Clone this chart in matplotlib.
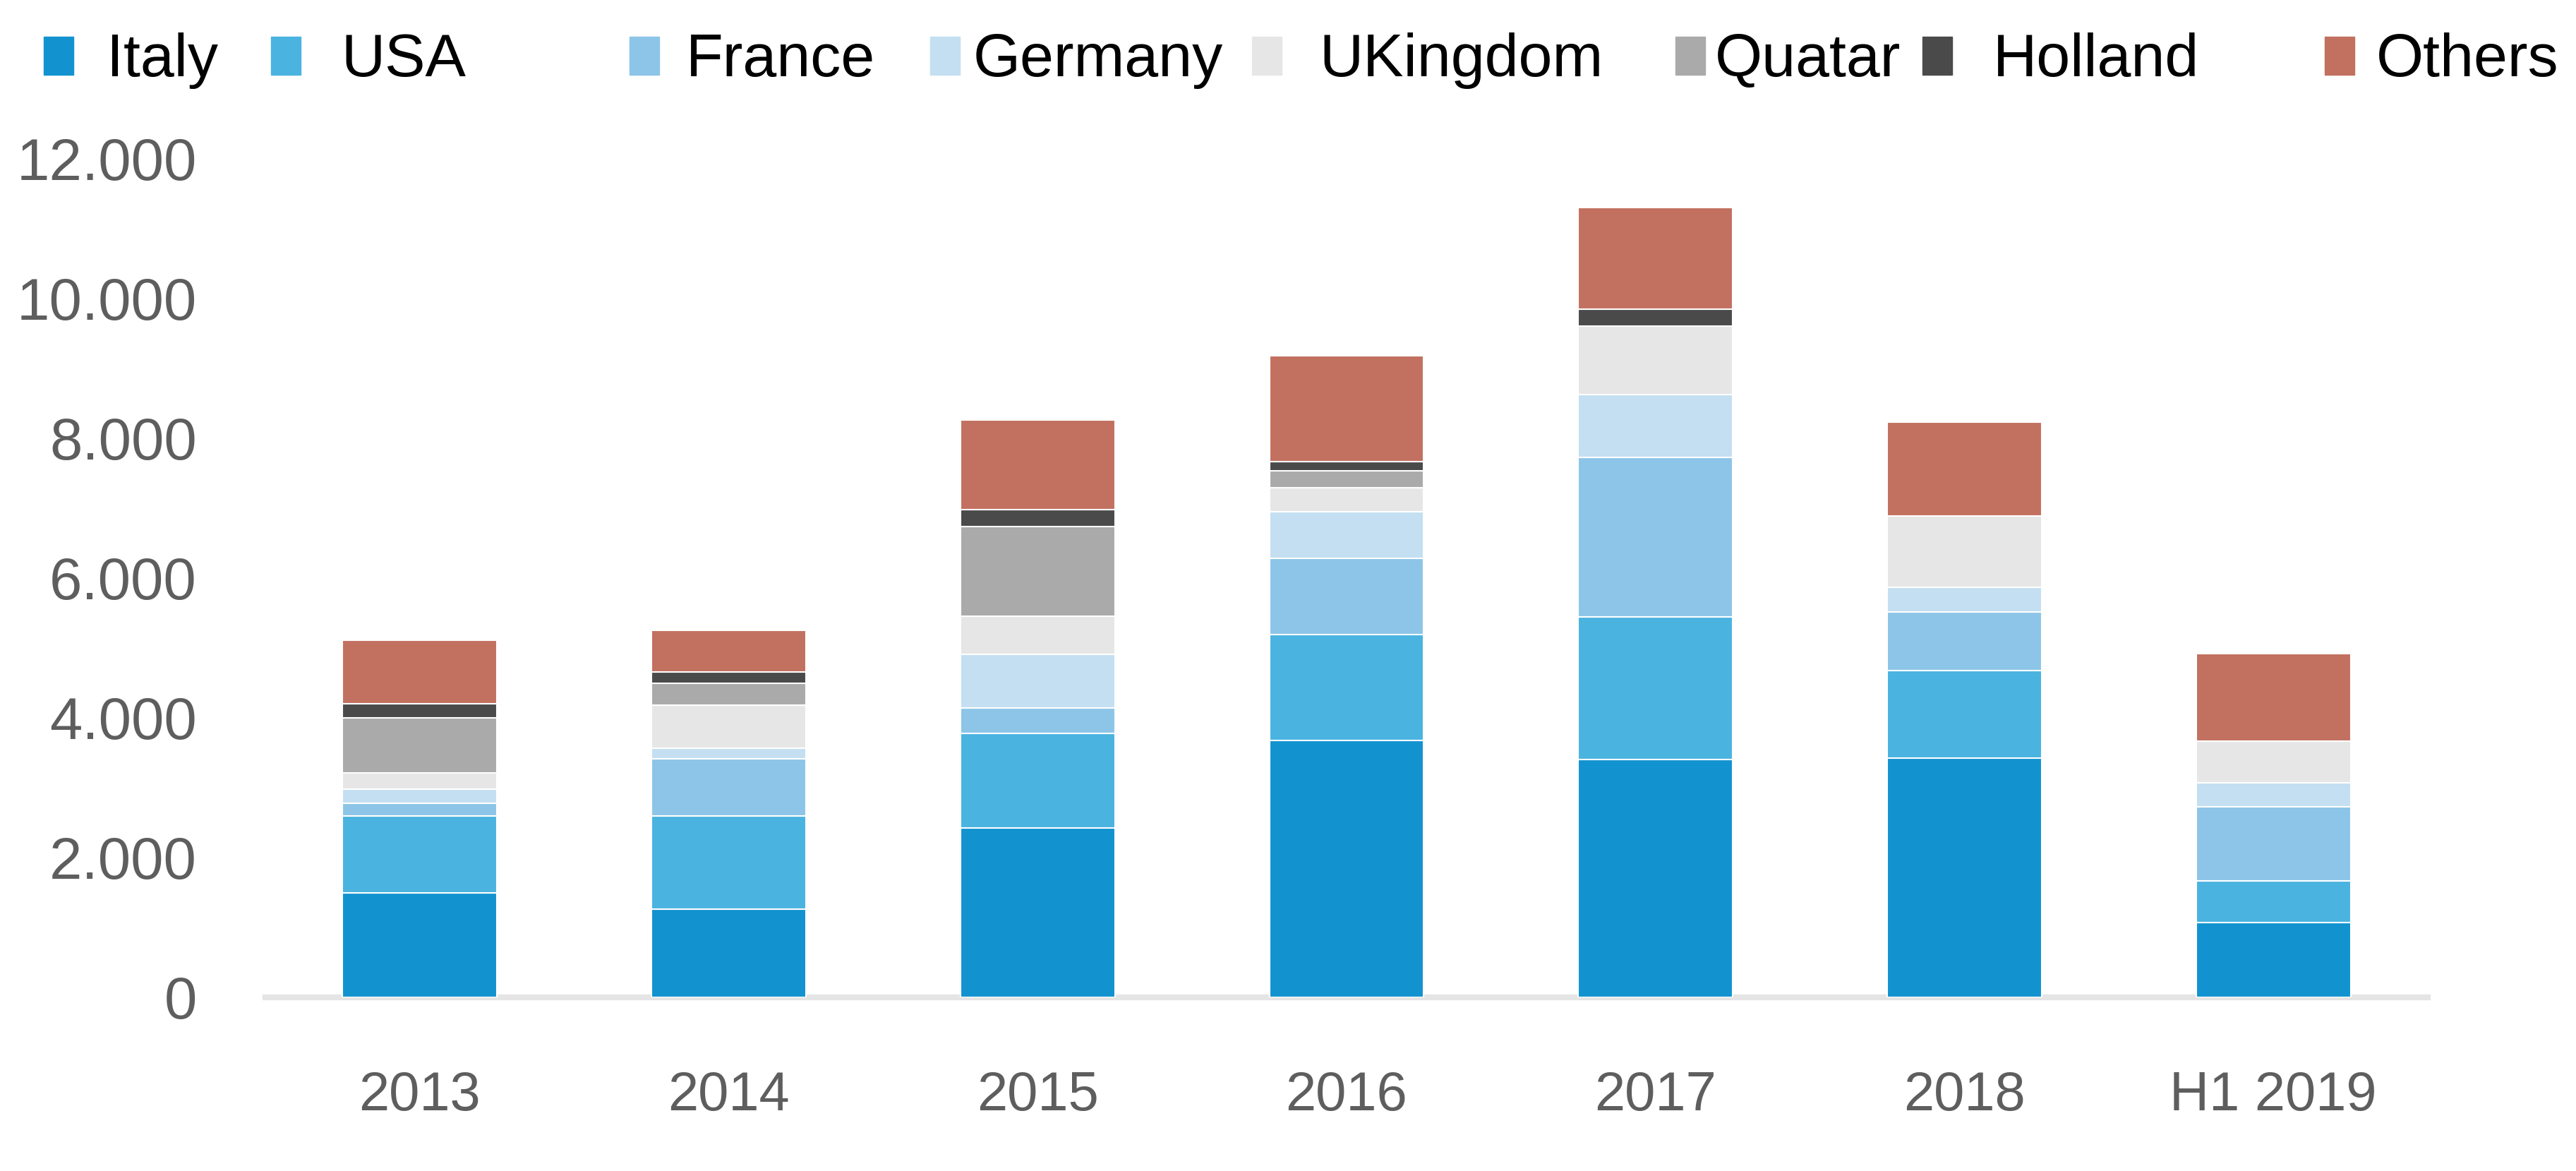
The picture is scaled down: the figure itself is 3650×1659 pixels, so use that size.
import numpy as np
import matplotlib.pyplot as plt
from matplotlib.patches import Rectangle

years = ["2013", "2014", "2015", "2016", "2017", "2018", "H1 2019"]

italy = [1500, 1260, 2420, 3680, 3400, 3420, 1070]
usa = [1100, 1340, 1360, 1510, 2040, 1260, 600]
france = [180, 810, 360, 1090, 2290, 840, 1060]
germany = [200, 160, 770, 670, 900, 350, 340]
ukingdom = [230, 610, 540, 340, 980, 1020, 600]
quatar = [790, 320, 1290, 250, 0, 0, 0]
holland = [200, 160, 240, 130, 240, 0, 0]
others = [910, 590, 1280, 1510, 1450, 1340, 1250]

names = ["Italy", "USA", "France", "Germany", "UKingdom", "Quatar", "Holland", "Others"]
series = [italy, usa, france, germany, ukingdom, quatar, holland, others]
colors = ["#1293D0", "#4AB3E0", "#8CC5E8", "#C3DFF1", "#E6E6E6", "#AAAAAA", "#4A4A4A", "#C27060"]

yticks = [0, 2000, 4000, 6000, 8000, 10000, 12000]

plt.rcParams["font.family"] = ["Liberation Sans", "DejaVu Sans"]

W, H = 3650, 1659
fig = plt.figure(figsize=(W / 100, H / 100), dpi=100)
ax = fig.add_axes([376 / W, 246 / H, 3064 / W, (1413 - 225) / H])

x = np.arange(len(years))
bottom = np.zeros(len(years))
for vals, color in zip(series, colors):
    ax.bar(x, vals, width=0.5, bottom=bottom, color=color,
           edgecolor="white", linewidth=1.5, zorder=3)
    bottom += np.array(vals)

ax.set_xlim(-0.5, len(years) - 0.5)
ax.set_ylim(0, 12000)
ax.set_yticks(yticks)
ax.set_yticklabels([f"{v:,}".replace(",", ".") for v in yticks])
ax.set_xticks(x)
ax.set_xticklabels(years)

for s in ["top", "right", "left"]:
    ax.spines[s].set_visible(False)
ax.spines["bottom"].set_color("#E5E5E5")
ax.spines["bottom"].set_linewidth(6)
ax.spines["bottom"].set_zorder(1)

ax.tick_params(length=0, colors="#5E5E5E")
ax.tick_params(axis="y", pad=70, labelsize=60)
ax.tick_params(axis="x", pad=74, labelsize=56)

# legend drawn by hand to keep the uneven spacing of the original
marker_x = [62, 384, 892, 1318, 1774, 2374, 2724, 3294]
text_x = [151, 483, 972, 1379, 1869, 2430, 2824, 3367]
for name, color, mx, tx in zip(names, colors, marker_x, text_x):
    fig.add_artist(Rectangle((mx / W, 1553 / H), 42 / W, 54 / H,
                             transform=fig.transFigure, color=color))
    fig.text(tx / W, 1551 / H, name, fontsize=62, color="black",
             va="baseline", ha="left")

fig.savefig("out.png", dpi=100)
